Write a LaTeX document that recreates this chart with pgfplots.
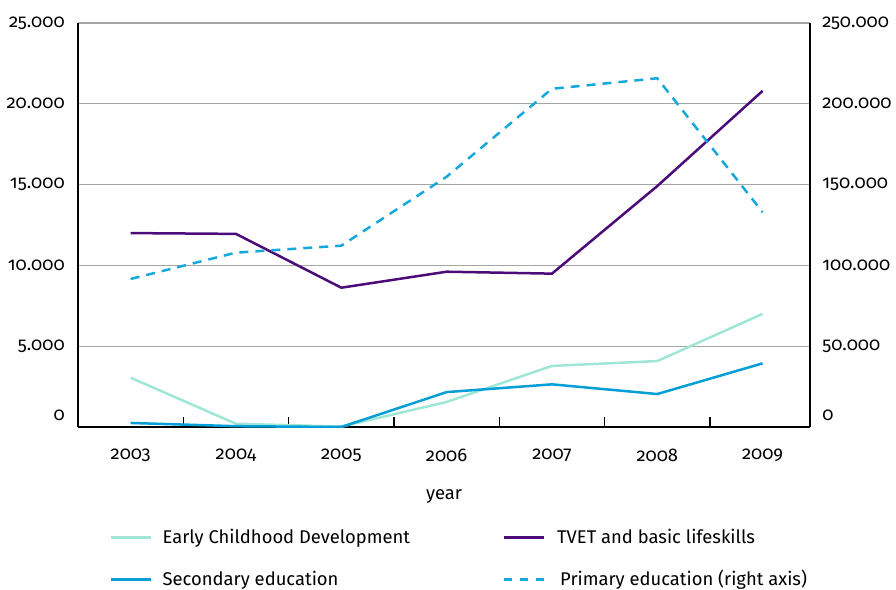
\documentclass[border=0pt]{standalone}
\usepackage{fontspec}
\setmainfont{Fira Sans}[Numbers=OldStyle]
\usepackage{pgfplots}
\pgfplotsset{compat=1.18}
\definecolor{ecd}{RGB}{160,230,214}
\definecolor{sec}{RGB}{5,158,215}
\definecolor{prim}{RGB}{22,168,220}
\definecolor{tvet}{RGB}{75,12,122}
\definecolor{gridgray}{RGB}{165,165,165}
\begin{document}
\fontsize{18.4}{22}\selectfont
\begin{tikzpicture}
\begin{axis}[
  scale only axis, width=732pt, height=404pt,
  xmin=-0.5, xmax=6.45, ymin=0, ymax=25000,
  axis x line*=bottom, axis y line*=left,
  axis line style={line width=1.5pt, black, -},
  xtick={0,1,2,3,4,5,6},
  xticklabels={2003,2004,2005,2006,2007,2008,2009},
  minor xtick={0.5,1.5,2.5,3.5,4.5,5.5},
  tick align=inside,
  major tick length=0pt, minor tick length=10pt,
  minor tick style={line width=1.5pt, black},
  xticklabel style={yshift=-16pt},
  ytick={5000,10000,15000,20000,25000},
  extra y ticks={0},
  extra y tick style={grid=none, yticklabel style={yshift=12pt}},
  yticklabel style={xshift=-7pt},
  scaled y ticks=false,
  /pgf/number format/fixed,
  /pgf/number format/1000 sep={.},
  /pgf/number format/assume math mode=true,
  ymajorgrids,
  major grid style={gridgray, line width=1.3pt},
  xlabel={year},
  xlabel style={at={(axis description cs:0.5,-0.173)}, anchor=center},
  legend columns=2,
  legend cell align=left,
  legend style={at={(0.0437,-0.247)}, anchor=north west, draw=none, fill=none,
    inner sep=0pt, row sep=20pt},
  legend image code/.code={\draw[#1] (0pt,0pt) -- (40pt,0pt);},
]
\addplot[ecd, line width=2.5pt] coordinates {
 (0,3050) (1,200) (2,30) (3,1550) (4,3780) (5,4080) (6,7000)};
\addlegendentry{\hspace{8pt}\makebox[338pt][l]{Early Childhood Development}}
\addplot[tvet, line width=2.5pt] coordinates {
 (0,12000) (1,11950) (2,8620) (3,9610) (4,9490) (5,14910) (6,20800)};
\addlegendentry{\hspace{10pt}TVET and basic lifeskills}
\addplot[sec, line width=2.5pt] coordinates {
 (0,250) (1,50) (2,0) (3,2160) (4,2640) (5,2040) (6,3940)};
\addlegendentry{\hspace{8pt}Secondary education}
\addlegendimage{prim, line width=2.5pt, dash pattern=on 8pt off 8pt}
\addlegendentry{\hspace{13pt}Primary education (right axis)}
\end{axis}
\begin{axis}[
  scale only axis, width=732pt, height=404pt,
  xmin=-0.5, xmax=6.45, ymin=0, ymax=250000,
  axis x line=none, axis y line*=right,
  xtick=\empty,
  axis line style={line width=1.5pt, black, -},
  major tick length=0pt,
  ytick={50000,100000,150000,200000,250000},
  extra y ticks={0},
  extra y tick style={yticklabel style={yshift=12pt}},
  yticklabel style={xshift=6pt},
  scaled y ticks=false,
  /pgf/number format/fixed,
  /pgf/number format/1000 sep={.},
  /pgf/number format/assume math mode=true,
]
\addplot[prim, line width=2.5pt, dash pattern=on 9pt off 7pt] coordinates {
 (0,91600) (1,107900) (2,112200) (3,154900) (4,209300) (5,215800) (6,132900)};
\end{axis}
\pgfresetboundingbox
\useasboundingbox (-78pt,-162pt) rectangle (818pt,427pt);
\end{tikzpicture}
\end{document}
